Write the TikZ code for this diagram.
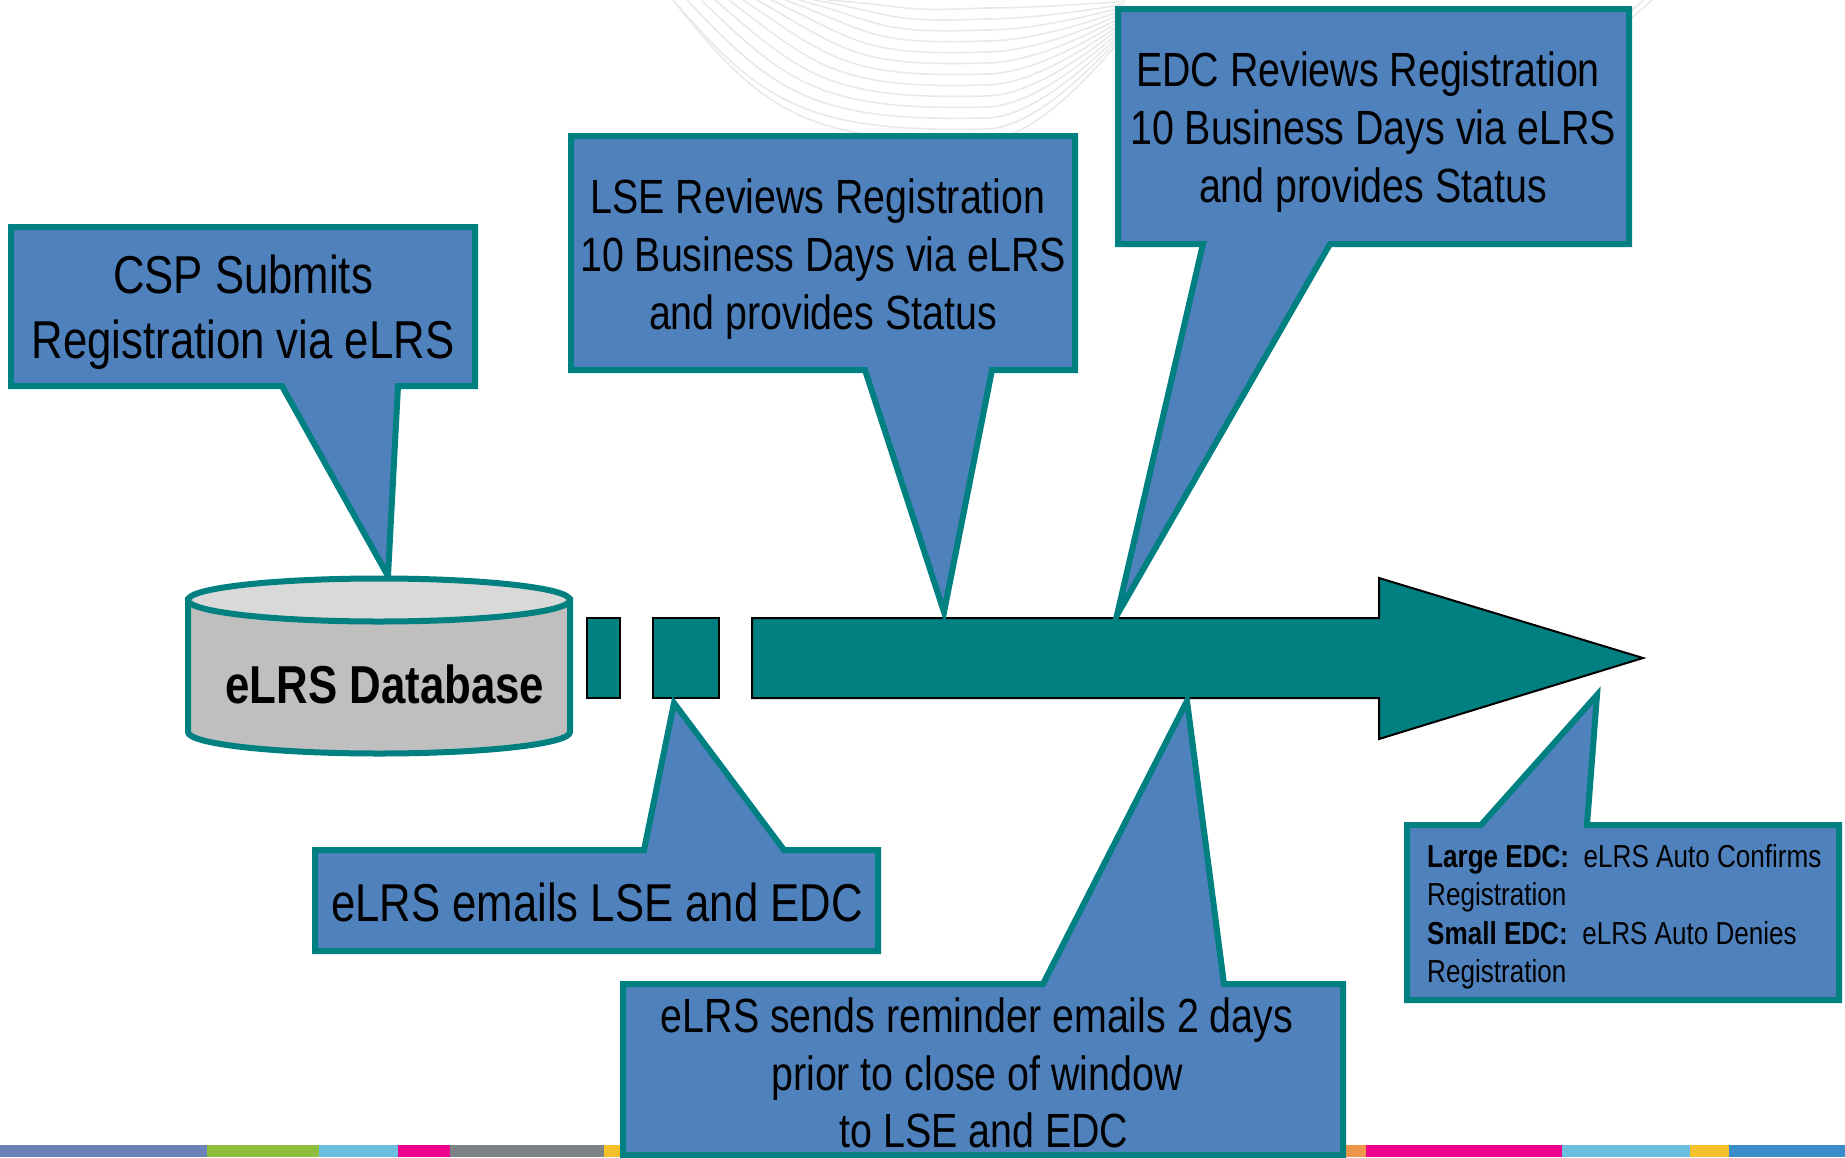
\documentclass[tikz,border=0pt]{standalone}
\usepackage{fontspec}
\setmainfont[FakeStretch=0.82]{Liberation Sans}
\definecolor{tealb}{HTML}{008080}
\definecolor{bluef}{HTML}{4F81BD}
\definecolor{cylside}{HTML}{BFBFBF}
\definecolor{cyltop}{HTML}{D9D9D9}
\definecolor{wave}{HTML}{E9E9E9}
\tikzset{
  callout/.style={draw=tealb,fill=bluef,line width=6pt,miter limit=20,line join=miter},
  bigtext/.style={align=center,inner sep=0pt,text=black,font=\fontsize{48}{57.7}\selectfont},
  hugetext/.style={align=center,inner sep=0pt,text=black,font=\fontsize{53.3}{64.7}\selectfont},
  smalltext/.style={align=left,inner sep=0pt,text=black,font=\fontsize{31.8}{38.4}\selectfont},
  arrowpart/.style={draw=black,fill=tealb,line width=2pt,miter limit=20}
}
\begin{document}
\begin{tikzpicture}[x=1pt,y=-1pt]
\useasboundingbox (0,0) rectangle (1845,1157);
% background line art
\begin{scope}
\clip (0,0) rectangle (1845,140);
\foreach \i in {-1,0,...,11}{
  \pgfmathsetmacro{\sx}{673+14*max(\i,0)}
  \pgfmathsetmacro{\bt}{129-11*\i}
  \pgfmathsetmacro{\en}{32-2.8*\i}
  \draw[wave,line width=1.6pt] (\sx,0) .. controls ({\sx+87},{\bt*0.78}) and ({\sx+0.42*(985-\sx)},{\bt+4}) .. (985,\bt)
     .. controls (1030,\bt) and (1085,{\en+0.45*(\bt-\en)}) .. (1125,\en);
}
\draw[wave,line width=1.6pt] (1632,18) -- (1652,0);
\draw[wave,line width=1.6pt] (1632,10) -- (1644,0);
\end{scope}
% bottom bar
\foreach \a/\b/\c in {0/207/6D82B8,207/319/8FBE3D,319/398/6CBEE0,398/450/EC008C,450/604/7D8488,604/1345/F5BF2A,1345/1366/F0964A,1366/1562/EC008C,1562/1690/6CBEE0,1690/1729/F5BF2A,1729/1845/3A8DC8}{
  \definecolor{barc}{HTML}{\c}
  \fill[barc] (\a,1145) rectangle (\b,1157);
}
% arrow
\draw[arrowpart] (587,618) rectangle (620,698);
\draw[arrowpart] (653,618) rectangle (719,698);
\draw[arrowpart] (752,618) -- (1379,618) -- (1379,578) -- (1643,658) -- (1379,739) -- (1379,698) -- (752,698) -- cycle;
% callouts
\draw[callout] (11,227) -- (475,227) -- (475,386) -- (398,386) -- (388,576) -- (282,386) -- (11,386) -- cycle;
\node[hugetext] (csp) at (243,312.5) {CSP Submits\\Registration via eLRS};
\draw[callout] (571,136) -- (1075,136) -- (1075,370) -- (992,370) -- (944,612) -- (865,370) -- (571,370) -- cycle;
\node[bigtext] (lse) at (823,259) {LSE Reviews Registration\hspace*{10pt}\\10 Business Days via eLRS\\and provides Status};
\draw[callout] (1118,9) -- (1629,9) -- (1629,244) -- (1330,244) -- (1117,615) -- (1203,244) -- (1118,244) -- cycle;
\node[bigtext] (edc) at (1373,132) {EDC Reviews Registration\hspace*{10pt}\\10 Business Days via eLRS\\and provides Status};
\draw[callout] (315,850) -- (644,850) -- (674,703) -- (784,850) -- (878,850) -- (878,951) -- (315,951) -- cycle;
\node[hugetext] (mail) at (597,902) {eLRS emails LSE and EDC};
\draw[callout] (623,984) -- (1043,984) -- (1187,701) -- (1224,984) -- (1343,984) -- (1343,1155) -- (623,1155) -- cycle;
\node[bigtext] (rem) at (977,1073) {eLRS sends reminder emails 2 days\\prior to close of window\\\hspace*{14pt}to LSE and EDC};
\draw[callout] (1407,825) -- (1481,825) -- (1597,695) -- (1587,825) -- (1839,825) -- (1839,1000) -- (1407,1000) -- cycle;
\node[smalltext,anchor=north west] (size) at (1427,844) {\textbf{Large EDC:}\ \ eLRS Auto Confirms\\Registration\\\textbf{Small EDC:}\ \ eLRS Auto Denies\\Registration};
% cylinder
\path[fill=cylside,draw=tealb,line width=6pt] (188,600) -- (188,732) arc[start angle=180,end angle=0,x radius=191,y radius=21.5] -- (570,600) -- cycle;
\draw[tealb,line width=6pt,fill=cyltop] (379,600) ellipse[x radius=191,y radius=21.5];
\node[inner sep=0pt,font=\fontsize{53.4}{60}\selectfont\bfseries] (db) at (385,684) {eLRS Database};
\end{tikzpicture}
\end{document}
